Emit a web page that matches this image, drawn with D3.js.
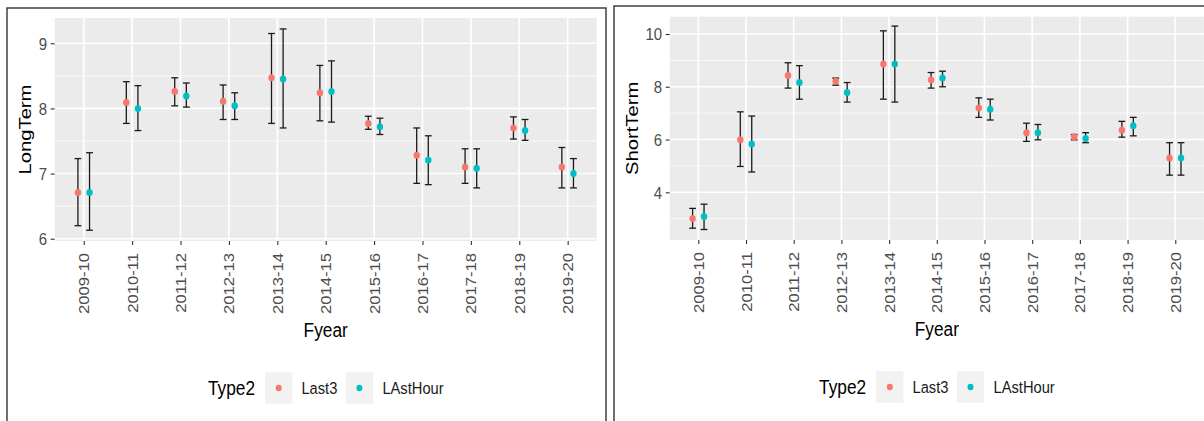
<!DOCTYPE html>
<html><head><meta charset="utf-8">
<script src="https://cdn.jsdelivr.net/npm/d3@7"></script>
<style>
html,body{margin:0;padding:0;background:#fff;}
svg{display:block;font-family:"Liberation Sans",Arial,sans-serif;}
</style></head>
<body><svg id="c" width="1204" height="421"></svg>
<script>
// ---------- data ----------
const categories = ["2009-10","2010-11","2011-12","2012-13","2013-14","2014-15","2015-16","2016-17","2017-18","2018-19","2019-20"];
const seriesNames = ["Last3","LAstHour"];
const seriesColors = ["#F8766D","#00BFC4"];

const longLast3   = [6.71, 8.09, 8.26, 8.11, 8.47, 8.24, 7.77, 7.28, 7.10, 7.70, 7.10];
const longLast3Lo = [6.20, 7.77, 8.04, 7.83, 7.77, 7.81, 7.68, 6.85, 6.85, 7.53, 6.78];
const longLast3Hi = [7.23, 8.41, 8.47, 8.36, 9.15, 8.66, 7.88, 7.70, 7.38, 7.87, 7.40];
const longHour    = [6.71, 8.00, 8.19, 8.04, 8.45, 8.26, 7.72, 7.21, 7.08, 7.66, 7.00];
const longHourLo  = [6.13, 7.66, 8.02, 7.83, 7.70, 7.79, 7.60, 6.83, 6.78, 7.51, 6.78];
const longHourHi  = [7.32, 8.35, 8.39, 8.24, 9.22, 8.73, 7.85, 7.58, 7.38, 7.83, 7.23];

const shortLast3   = [3.01, 5.99, 8.43, 8.21, 8.86, 8.27, 7.20, 6.26, 6.11, 6.36, 5.30];
const shortLast3Lo = [2.64, 4.98, 7.95, 8.06, 7.53, 7.95, 6.84, 5.93, 5.99, 6.09, 4.65];
const shortLast3Hi = [3.39, 7.05, 8.91, 8.33, 10.12, 8.54, 7.58, 6.62, 6.19, 6.69, 5.88];
const shortHour    = [3.08, 5.83, 8.16, 7.78, 8.86, 8.33, 7.15, 6.26, 6.04, 6.52, 5.30];
const shortHourLo  = [2.59, 4.77, 7.53, 7.42, 7.42, 8.00, 6.74, 5.99, 5.88, 6.14, 4.65];
const shortHourHi  = [3.55, 6.89, 8.80, 8.16, 10.30, 8.59, 7.53, 6.57, 6.26, 6.84, 5.88];

const longTicks = [6, 7, 8, 9];
const longMinor = [6.5, 7.5, 8.5];
const longDomain = [5.965, 9.388];
const shortTicks = [4, 6, 8, 10];
const shortMinor = [3, 5, 7, 9];
const shortDomain = [2.192, 10.656];

// ---------- drawing ----------
const svg = d3.select("#c");
const STR = 1.19; // length stretch of rotated text
const HSTR = 1.12; // vertical stretch of horizontal text

function drawFigure(o) {
  const g = svg.append("g");
  // figure frame
  g.append("rect").attr("x", o.frame[0]).attr("y", o.frame[1]).attr("width", o.frame[2]).attr("height", o.frame[3])
    .attr("fill", "#fff").attr("stroke", "#333").attr("stroke-width", 1.4);

  const x = d3.scalePoint().domain(categories).range(o.px).padding(0.6);
  const y = d3.scaleLinear().domain(o.domain).range([o.py[1], o.py[0]]);
  const step = x.step();
  const dodge = [-0.12 * step, 0.12 * step];

  // panel
  g.append("rect").attr("x", o.px[0]).attr("y", o.py[0]).attr("width", o.px[1] - o.px[0]).attr("height", o.py[1] - o.py[0]).attr("fill", "#EBEBEB");
  g.selectAll(".ymin").data(o.minor).join("line").attr("x1", o.px[0]).attr("x2", o.px[1]).attr("y1", d => y(d)).attr("y2", d => y(d)).attr("stroke", "#fff").attr("stroke-width", 0.8);
  g.selectAll(".ymaj").data(o.ticks).join("line").attr("x1", o.px[0]).attr("x2", o.px[1]).attr("y1", d => y(d)).attr("y2", d => y(d)).attr("stroke", "#fff").attr("stroke-width", 1.6);
  g.selectAll(".xmaj").data(categories).join("line").attr("x1", d => x(d)).attr("x2", d => x(d)).attr("y1", o.py[0]).attr("y2", o.py[1]).attr("stroke", "#fff").attr("stroke-width", 1.6);

  // series
  o.series.forEach((s, si) => {
    const sg = g.append("g");
    const rows = categories.map((c, i) => ({c, v: s.v[i], lo: s.lo[i], hi: s.hi[i]}));
    sg.selectAll(".eb").data(rows).join("line")
      .attr("x1", d => x(d.c) + dodge[si]).attr("x2", d => x(d.c) + dodge[si])
      .attr("y1", d => y(d.lo)).attr("y2", d => y(d.hi)).attr("stroke", "#1a1a1a").attr("stroke-width", 1.3);
    ["lo", "hi"].forEach(k => {
      sg.selectAll(".cap" + k).data(rows).join("line")
        .attr("x1", d => x(d.c) + dodge[si] - 3.4).attr("x2", d => x(d.c) + dodge[si] + 3.4)
        .attr("y1", d => y(d[k])).attr("y2", d => y(d[k])).attr("stroke", "#1a1a1a").attr("stroke-width", 1.3);
    });
    sg.selectAll(".pt").data(rows).join("ellipse")
      .attr("cx", d => x(d.c) + dodge[si]).attr("cy", d => y(d.v)).attr("rx", 3.2).attr("ry", 3.5)
      .attr("fill", seriesColors[si]);
  });

  // y axis
  const ya = g.append("g").attr("transform", `translate(${o.px[0]},0)`)
    .call(d3.axisLeft(y).tickValues(o.ticks).tickSize(4).tickPadding(3).tickFormat(d3.format("d")));
  ya.select(".domain").remove();
  ya.selectAll(".tick line").attr("stroke", "#333").attr("stroke-width", 1.1);
  ya.selectAll(".tick text").attr("fill", "#4D4D4D").attr("font-size", 15).attr("font-family", null)
    .attr("dy", "0.36em").attr("x", -7.5).attr("transform", "scale(1,1.1)");

  // x axis
  const xa = g.append("g").attr("transform", `translate(0,${o.py[1]})`)
    .call(d3.axisBottom(x).tickSize(4).tickPadding(0));
  xa.select(".domain").remove();
  xa.selectAll(".tick line").attr("stroke", "#333").attr("stroke-width", 1.1);
  xa.selectAll(".tick text").attr("fill", "#4D4D4D").attr("font-size", 14).attr("font-family", null)
    .attr("text-anchor", "end").attr("x", 0).attr("y", 0).attr("dy", "0.36em")
    .attr("transform", `translate(0,12) scale(1,${STR}) rotate(-90)`);

  // titles
  g.append("text").attr("transform", `translate(${o.ytitleX},${(o.py[0] + o.py[1]) / 2}) scale(1,${STR}) rotate(-90)`)
    .attr("text-anchor", "middle").attr("font-size", 17).attr("fill", "#000").text(o.ytitle);
  const cx = (o.px[0] + o.px[1]) / 2;
  g.append("text").attr("transform", `translate(${cx},${o.xtitleY}) scale(1,${HSTR})`)
    .attr("text-anchor", "middle").attr("font-size", 17.3).attr("fill", "#000").text("Fyear");

  // legend
  const lg = g.append("g").attr("transform", `translate(${cx},${o.legY})`);
  lg.append("text").attr("transform", `translate(-117.7,7) scale(1,${HSTR})`).attr("font-size", 17.3).attr("fill", "#000").text("Type2");
  const keyX = [-60.7, 20];
  const labX = [-24.3, 56.7];
  seriesNames.forEach((n, i) => {
    lg.append("rect").attr("x", keyX[i]).attr("y", -15.8).attr("width", 27.4).attr("height", 31.6).attr("fill", "#F2F2F2");
    lg.append("ellipse").attr("cx", keyX[i] + 13.7).attr("cy", 0).attr("rx", 3).attr("ry", 3.3).attr("fill", seriesColors[i]);
    lg.append("text").attr("transform", `translate(${labX[i]},5.5) scale(1,${HSTR})`).attr("font-size", 14.7).attr("fill", "#1a1a1a").text(n);
  });
}

drawFigure({
  frame: [7, 8, 599, 500],
  px: [54.7, 596.7], py: [18, 241], domain: longDomain, ticks: longTicks, minor: longMinor,
  ytitle: "LongTerm", ytitleX: 30.5, xtitleY: 337, legY: 388,
  series: [{v: longLast3, lo: longLast3Lo, hi: longLast3Hi}, {v: longHour, lo: longHourLo, hi: longHourHi}]
});
drawFigure({
  frame: [614, 6, 700, 500],
  px: [669.7, 1203.9], py: [16.7, 240], domain: shortDomain, ticks: shortTicks, minor: shortMinor,
  ytitle: "ShortTerm", ytitleX: 638, xtitleY: 336, legY: 387,
  series: [{v: shortLast3, lo: shortLast3Lo, hi: shortLast3Hi}, {v: shortHour, lo: shortHourLo, hi: shortHourHi}]
});
</script></body></html>
